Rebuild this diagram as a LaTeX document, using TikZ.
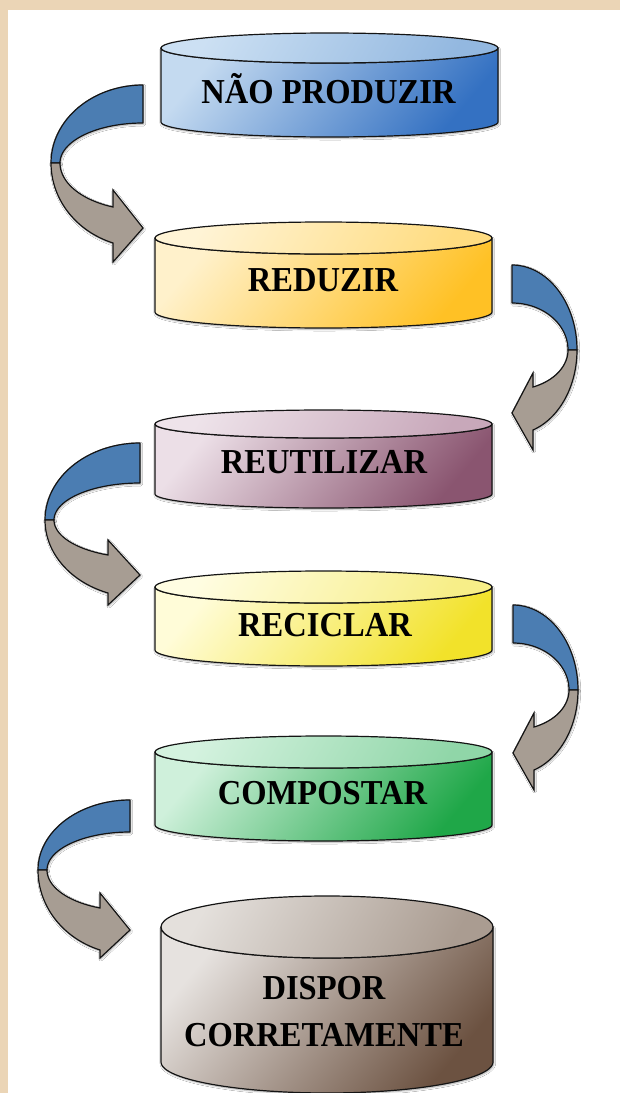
\documentclass[tikz,border=0pt]{standalone}
\usepackage{fontspec}
\setmainfont{Liberation Serif}
\usetikzlibrary{shadows.blur}
\definecolor{beige}{HTML}{EBD5B6}
\definecolor{arrowblue}{HTML}{4B7DB2}
\definecolor{arrowgrey}{HTML}{A79D93}
\definecolor{outl}{HTML}{141414}
\definecolor{bluL}{HTML}{C4DAF0}\definecolor{bluD}{HTML}{3471C2}
\definecolor{bluTL}{HTML}{CCE0F3}\definecolor{bluTD}{HTML}{93B8E0}
\definecolor{oraL}{HTML}{FFF1CB}\definecolor{oraD}{HTML}{FFC125}
\definecolor{oraTL}{HTML}{FFF4D6}\definecolor{oraTD}{HTML}{FFDC80}
\definecolor{mauL}{HTML}{ECDFE7}\definecolor{mauD}{HTML}{8A5570}
\definecolor{mauTL}{HTML}{EEE3EA}\definecolor{mauTD}{HTML}{C8A8BA}
\definecolor{yelL}{HTML}{FFFCD8}\definecolor{yelD}{HTML}{F2E22A}
\definecolor{yelTL}{HTML}{FFFDE2}\definecolor{yelTD}{HTML}{F7EE88}
\definecolor{grnL}{HTML}{CFF0DB}\definecolor{grnD}{HTML}{1FA748}
\definecolor{grnTL}{HTML}{D4F2DF}\definecolor{grnTD}{HTML}{90D6A8}
\definecolor{tauL}{HTML}{E6E2DF}\definecolor{tauD}{HTML}{6C5241}
\definecolor{tauTL}{HTML}{E4E0DC}\definecolor{tauTD}{HTML}{AA9C91}
\tikzset{
  canline/.style={draw=outl, line width=1.2bp, line join=round},
  shd/.style={blur shadow={shadow xshift=0.8bp, shadow yshift=-1.2bp, shadow blur steps=6, shadow opacity=35}},
  lbl/.style={font=\fontsize{35bp}{47bp}\selectfont\bfseries, xscale=0.93, inner sep=0pt, align=center, text=black},
  blueband/.style={fill=arrowblue, draw=outl, line width=1.2bp, line join=round},
  greyband/.style={fill=arrowgrey, draw=outl, line width=1.2bp, line join=miter},
}
% cylinder: #1 cx, #2 top centre y, #3 bottom centre y, #4 rx, #5 ry, #6 colour prefix
\newcommand\drawcan[6]{%
  \shadedraw[canline, shd, left color=#6L, right color=#6D, shading angle=50]
    (#1-#4,#2) -- (#1-#4,#3)
    -- plot[domain=180:0, samples=60] ({#1+#4*cos(\x)},{#3+#5*sin(\x)})
    -- (#1+#4,#2)
    -- plot[domain=0:180, samples=60] ({#1+#4*cos(\x)},{#2+#5*sin(\x)}) -- cycle;
  \shadedraw[canline, left color=#6TL, right color=#6TD, shading angle=60]
    (#1,#2) ellipse[x radius=#4, y radius=#5];
}
% curved arrow: #1 scope options (shift, xscale), #2 parameter definitions
\newcommand\curvarrow[2]{%
  \begin{scope}[#1]
    #2
    \pgfmathsetmacro\aWi{\aW-9}
    \pgfmathsetmacro\aAo{acos(\ahx/\aW)}
    \pgfmathsetmacro\aRo{(\aso-\aE)/sin(\aAo)}
    \pgfmathsetmacro\aAi{acos(\ahx/\aWi)}
    \pgfmathsetmacro\aRi{(\asi-\aE)/sin(\aAi)}
    \filldraw[blueband, shd]
      plot[domain=90:0, samples=50] ({\aW*cos(\x)},{\aE-\aE*sin(\x)})
      -- plot[domain=0:90, samples=50] ({\aWi*cos(\x)},{\aE-(\aE-\at)*sin(\x)}) -- cycle;
    \filldraw[greyband, shd]
      plot[domain=0:\aAo, samples=50] ({\aW*cos(\x)},{\aE+\aRo*sin(\x)})
      -- (\ahx,\ahB) -- (0,\atip) -- (\ahx,\ahA)
      -- plot[domain=\aAi:0, samples=50] ({\aWi*cos(\x)},{\aE+\aRi*sin(\x)}) -- cycle;
  \end{scope}
}
\begin{document}
\begin{tikzpicture}[x=1bp, y=-1bp]
  \useasboundingbox (0,0) rectangle (620,1093);
  \fill[beige] (0,0) rectangle (620,1093);
  \fill[white] (8,10) rectangle (620,1093);

  % cylinders
  \drawcan{329.5}{48}{122}{168.5}{15}{blu}
  \drawcan{323.5}{238}{312}{168.5}{16}{ora}
  \drawcan{323.5}{424}{494}{168.5}{14}{mau}
  \drawcan{323.5}{587}{650}{168.5}{16}{yel}
  \drawcan{323.5}{752}{825}{168.5}{16}{grn}
  \drawcan{327}{927}{1062}{166}{31}{tau}

  % labels
  \node[lbl, anchor=base] (c1) at (328.5,103.5) {NÃO PRODUZIR};
  \node[lbl, anchor=base] (c2) at (323,291.5) {REDUZIR};
  \node[lbl, anchor=base] (c3) at (324,473.5) {REUTILIZAR};
  \node[lbl, anchor=base] (c4) at (325,636.5) {RECICLAR};
  \node[lbl, anchor=base] (c5) at (322.5,804.5) {COMPOSTAR};
  \node[lbl, anchor=center] (c6) at (324,1011.5) {DISPOR\\CORRETAMENTE};

  % curved arrows
  \curvarrow{shift={(143,85)}, xscale=-1}{\def\aW{92}\def\aE{78}\def\at{38}\def\ahx{30}\def\atip{143}\def\ahA{105}\def\ahB{177}\def\asi{122}\def\aso{158}}
  \curvarrow{shift={(512,265)}}{\def\aW{65}\def\aE{85}\def\at{38}\def\ahx{21}\def\atip{148}\def\ahA{108}\def\ahB{185}\def\asi{122}\def\aso{165}}
  \curvarrow{shift={(140,443)}, xscale=-1}{\def\aW{95}\def\aE{77}\def\at{40}\def\ahx{32}\def\atip{132}\def\ahA{97}\def\ahB{162}\def\asi{112}\def\aso{150}}
  \curvarrow{shift={(513,605)}}{\def\aW{65}\def\aE{85}\def\at{38}\def\ahx{21}\def\atip{148}\def\ahA{108}\def\ahB{185}\def\asi{122}\def\aso{165}}
  \curvarrow{shift={(130,800)}, xscale=-1}{\def\aW{92}\def\aE{70}\def\at{32}\def\ahx{30}\def\atip{130}\def\ahA{93}\def\ahB{158}\def\asi{108}\def\aso{150}}
\end{tikzpicture}
\end{document}
